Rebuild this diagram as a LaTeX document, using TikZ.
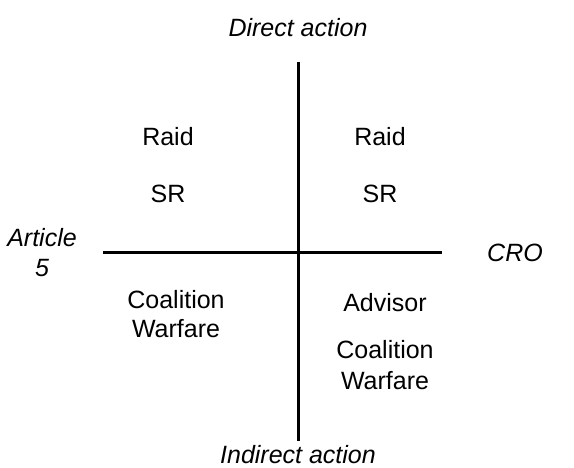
\documentclass[tikz,border=0pt]{standalone}
\usepackage{fontspec}
\setmainfont{Liberation Sans}
\usetikzlibrary{positioning}

\tikzset{
  lbl/.style = {font=\fontsize{25}{30}\selectfont, inner sep=0pt, align=center},
  axislbl/.style = {lbl, font=\fontsize{25}{30}\selectfont\itshape},
  axis/.style = {line width=3pt}
}

\begin{document}
\begin{tikzpicture}[x=1pt, y=-1pt]
	    \useasboundingbox (0,0) rectangle (574,468);
	    \begin{scope}
	      \coordinate (W) at (103,253);
	      \coordinate (E) at (442,253);
	      \coordinate (N) at (298,62);
	      \coordinate (S) at (298,441);
	      \draw[axis] (W) -- (E);
	      \draw[axis] (N) -- (S);
	      \node[axislbl] at (298,28) (direct) {Direct action};
	      \node[axislbl] at (298,455) (indirect) {Indirect action};
	      \node[axislbl] at (515,253) (cro) {CRO};
	      \node[axislbl] at (42,238) (art) {Article};
	      \node[axislbl, below=12pt of art] (five) {5};
	      % upper quadrants
	      \node[lbl] at (168,137) (raidL) {Raid};
	      \node[lbl] at (168,194) (srL) {SR};
	      \node[lbl] at (380,137) (raidR) {Raid};
	      \node[lbl] at (380,194) (srR) {SR};
	      % lower quadrants
	      \node[lbl] at (176,300) (coalL) {Coalition};
	      \node[lbl, below=10pt of coalL] (warfL) {Warfare};
	      \node[lbl] at (385,303) (adv) {Advisor};
	      \node[lbl] at (385,350) (coalR) {Coalition};
	      \node[lbl, below=12pt of coalR] (warfR) {Warfare};
	    \end{scope}
	    \end{tikzpicture}
\end{document}
